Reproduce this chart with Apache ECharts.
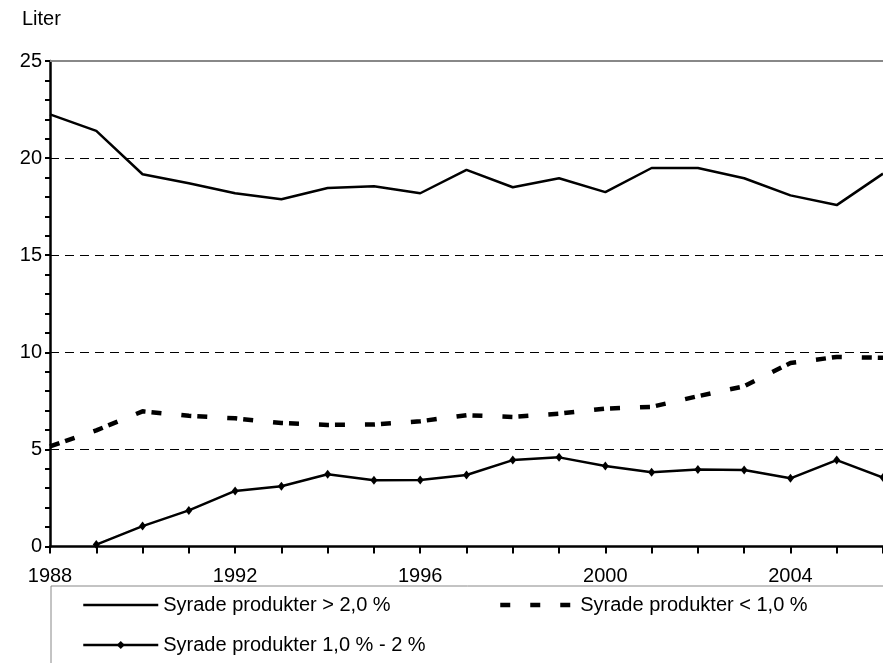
<!DOCTYPE html>
<html>
<head>
<meta charset="utf-8">
<script src="https://cdn.jsdelivr.net/npm/echarts@6/dist/echarts.min.js"></script>
<style>
html,body{margin:0;padding:0;background:#fff;}
#c{width:883px;height:663px;}
</style>
</head>
<body>
<div id="c"></div>
<script>
const years = ['1988','1989','1990','1991','1992','1993','1994','1995','1996','1997','1998','1999','2000','2001','2002','2003','2004','2005','2006'];
const nameHigh = 'Syrade produkter > 2,0 %';
const nameLow = 'Syrade produkter < 1,0 %';
const nameMid = 'Syrade produkter 1,0 % - 2 %';
const high = [22.25, 21.4, 19.17, 18.7, 18.19, 17.88, 18.46, 18.55, 18.19, 19.39, 18.5, 18.96, 18.25, 19.49, 19.49, 18.96, 18.08, 17.58, 19.2];
const low = [5.15, 5.98, 6.96, 6.73, 6.6, 6.36, 6.26, 6.28, 6.45, 6.76, 6.67, 6.84, 7.1, 7.19, 7.74, 8.25, 9.45, 9.76, 9.72];
const mid = [null, 0.1, 1.05, 1.86, 2.86, 3.1, 3.72, 3.41, 3.42, 3.68, 4.45, 4.59, 4.15, 3.82, 3.97, 3.94, 3.51, 4.45, 3.55];
const yTicks = {min: 0, max: 25, interval: 5};
const unitLabel = 'Liter';

const FONT = "'Liberation Sans', Arial, sans-serif";
const FS = 20;
const chart = echarts.init(document.getElementById('c'), null, {renderer: 'canvas'});
const legendText = {fontSize: FS, color: '#000', fontFamily: FONT};
chart.setOption({
  animation: false,
  backgroundColor: '#fff',
  textStyle: {fontFamily: FONT},
  grid: {left: 50, top: 61, height: 485.5, width: 841.5, containLabel: false},
  legend: [
    {data: [nameHigh], left: 82, top: 595, padding: 0, itemWidth: 75, itemHeight: 10, textStyle: legendText, selectedMode: false,
      itemStyle: {opacity: 0}, lineStyle: {width: 2.5, color: '#000'}},
    {data: [nameLow], left: 498, top: 595, padding: 0, itemWidth: 75, itemHeight: 10, textStyle: legendText, selectedMode: false,
      itemStyle: {opacity: 0}, lineStyle: {type: [10, 20], width: 4.5, color: '#000'}},
    {data: [nameMid], left: 82, top: 635, padding: 0, itemWidth: 75, itemHeight: 10, textStyle: legendText, selectedMode: false,
      lineStyle: {width: 2.5, color: '#000'}}
  ],
  graphic: [
    {type: 'text', left: 22, top: 9, style: {text: unitLabel, font: FS + 'px ' + FONT, fill: '#000'}},
    {type: 'rect', shape: {x: 51, y: 586, width: 900, height: 200}, style: {fill: 'none', stroke: '#888', lineWidth: 1}, z: 10}
  ],
  xAxis: {
    type: 'category',
    data: years,
    boundaryGap: false,
    axisLine: {lineStyle: {color: '#000', width: 2.5}},
    axisTick: {show: true, interval: 0, length: 7, inside: false, lineStyle: {color: '#000', width: 2}},
    axisLabel: {interval: 3, fontSize: FS, color: '#000', margin: 20, fontFamily: FONT},
    splitLine: {show: false}
  },
  yAxis: {
    type: 'value',
    min: yTicks.min, max: yTicks.max, interval: yTicks.interval,
    axisLine: {show: true, lineStyle: {color: '#000', width: 2.5}},
    axisTick: {show: true, length: 5, lineStyle: {color: '#000', width: 2}},
    minorTick: {show: true, splitNumber: 5, length: 5, lineStyle: {color: '#000', width: 2}},
    axisLabel: {fontSize: FS, color: '#000', margin: 8, fontFamily: FONT},
    splitLine: {show: true, lineStyle: {color: '#000', width: 1, type: [9, 6]}}
  },
  series: [
    {
      name: nameHigh, type: 'line', data: high, symbol: 'none',
      lineStyle: {color: '#000', width: 2.5}, itemStyle: {color: '#000'},
      markLine: {silent: true, symbol: 'none', label: {show: false},
        lineStyle: {color: '#888', width: 2, type: 'solid'}, data: [{yAxis: 25}]}
    },
    {
      name: nameLow, type: 'line', data: low, symbol: 'none',
      lineStyle: {color: '#000', width: 4.5, type: [10, 6, 10, 20]}, itemStyle: {color: '#000'}
    },
    {
      name: nameMid, type: 'line', data: mid, symbol: 'diamond', symbolSize: [7, 9], showSymbol: true,
      lineStyle: {color: '#000', width: 2.5}, itemStyle: {color: '#000'}
    }
  ]
});
</script>
</body>
</html>
